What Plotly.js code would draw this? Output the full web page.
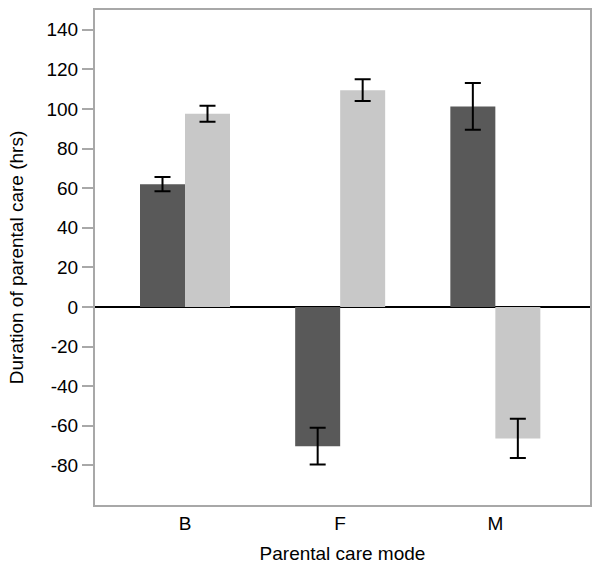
<!DOCTYPE html>
<html>
<head>
<meta charset="utf-8">
<script src="https://cdn.plot.ly/plotly-3.0.1.min.js"></script>
<style>html,body{margin:0;padding:0;background:#fff;}#chart{width:600px;height:574px;}</style>
</head>
<body>
<div id="chart"></div>
<script>
const categories = ["B", "F", "M"];
const darkValues = [62, -70.3, 101.3];
const darkErrors = [3.6, 9.3, 11.8];
const lightValues = [97.6, 109.5, -66.4];
const lightErrors = [4, 5.5, 9.9];
const yTickValues = [-80, -60, -40, -20, 0, 20, 40, 60, 80, 100, 120, 140];

const errStyle = {type: "data", visible: true, color: "#000", thickness: 2, width: 8};

const traces = [
  {type: "bar", x: categories, y: darkValues, marker: {color: "#595959"},
   error_y: Object.assign({array: darkErrors}, errStyle), name: "dark", hoverinfo: "skip"},
  {type: "bar", x: categories, y: lightValues, marker: {color: "#c8c8c8"},
   error_y: Object.assign({array: lightErrors}, errStyle), name: "light", hoverinfo: "skip"}
];

const layout = {
  width: 600, height: 574,
  margin: {l: 95, r: 10, t: 10, b: 69},
  paper_bgcolor: "#fff", plot_bgcolor: "#fff",
  showlegend: false,
  barmode: "group", bargap: 0.42, bargroupgap: 0,
  font: {family: "Liberation Sans, Arial, sans-serif", size: 19, color: "#000"},
  xaxis: {
    range: [-0.58, 2.61], showgrid: false, zeroline: false,
    showline: true, linecolor: "#a8a8a8", linewidth: 2, mirror: true,
    ticks: "", ticklabelstandoff: 0,
    tickfont: {size: 19},
    title: {text: "Parental care mode", font: {size: 19}, standoff: 14}
  },
  yaxis: {
    range: [-100, 150], showgrid: false,
    zeroline: true, zerolinecolor: "#000", zerolinewidth: 2,
    showline: true, linecolor: "#a8a8a8", linewidth: 2, mirror: true,
    ticks: "outside", ticklen: 11, tickwidth: 2, tickcolor: "#a8a8a8",
    tickfont: {size: 19},
    tickvals: yTickValues, ticktext: yTickValues.map(String),
    title: {text: "Duration of parental care (hrs)", font: {size: 19}, standoff: 18}
  }
};

Plotly.newPlot("chart", traces, layout, {displayModeBar: false, staticPlot: true});
</script>
</body>
</html>
